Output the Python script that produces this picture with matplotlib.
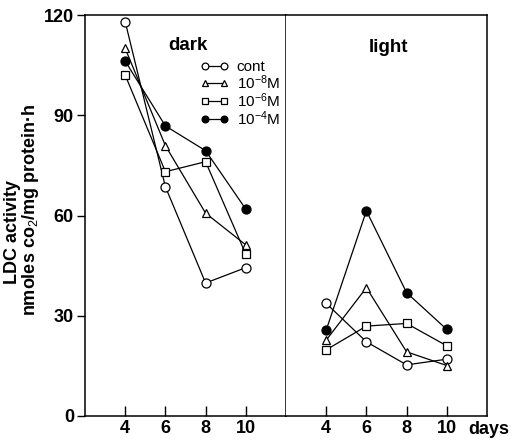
import matplotlib
matplotlib.use("Agg")
import matplotlib.pyplot as plt

plt.rcParams['font.family'] = ['Liberation Sans', 'DejaVu Sans']
plt.rcParams['mathtext.fontset'] = 'custom'
plt.rcParams['mathtext.rm'] = 'Liberation Sans'
plt.rcParams['mathtext.it'] = 'Liberation Sans'

days = [4, 6, 8, 10]
series_labels = ['cont', '10$^{-8}$M', '10$^{-6}$M', '10$^{-4}$M']
dark_cont = [118, 68.6, 39.8, 44.4]
dark_e8 = [110, 80.9, 60.7, 51.2]
dark_e6 = [102, 73.1, 76.1, 48.4]
dark_e4 = [106.2, 86.8, 79.4, 61.9]
light_cont = [33.7, 22.2, 15.3, 17.0]
light_e8 = [22.7, 38.4, 19.2, 15.1]
light_e6 = [19.8, 26.9, 27.7, 21.0]
light_e4 = [25.7, 61.4, 36.9, 25.9]
yticks = [0, 30, 60, 90, 120]
xticks = [4, 6, 8, 10]

W, H = 522, 442
fig = plt.figure(figsize=(W / 100, H / 100), dpi=100)

def fx(px):
    return px / W

def fy(py):
    return 1 - py / H

left, right, mid = 85, 487, 286
top, bottom = 15, 416
axL = fig.add_axes([fx(left), fy(bottom), fx(mid - left), (bottom - top) / H])
axR = fig.add_axes([fx(mid), fy(bottom), fx(right - mid), (bottom - top) / H])

styles = [
    dict(marker='o', mfc='white', ms=6.5),
    dict(marker='^', mfc='white', ms=6),
    dict(marker='s', mfc='white', ms=5.5),
    dict(marker='o', mfc='black', ms=6.5),
]

dark = [dark_cont, dark_e8, dark_e6, dark_e4]
light = [light_cont, light_e8, light_e6, light_e4]

handles = []
for vals, st, lab in zip(dark, styles, series_labels):
    h, = axL.plot(days, vals, color='black', lw=0.9, mec='black', mew=0.9, label=lab, **st)
    handles.append(h)
for vals, st in zip(light, styles):
    axR.plot(days, vals, color='black', lw=0.9, mec='black', mew=0.9, **st)

for ax in (axL, axR):
    ax.set_xlim(2, 12)
    ax.set_ylim(0, 120)
    ax.set_xticks(xticks)
    ax.set_xticklabels([str(t) for t in xticks], fontweight='bold', fontsize=13)
    ax.tick_params(axis='x', direction='in', length=7, width=1, pad=3)
    for s in ax.spines.values():
        s.set_linewidth(1.1)

axL.set_yticks(yticks)
axL.set_yticklabels([str(t) for t in yticks], fontweight='bold', fontsize=13)
axL.tick_params(axis='y', direction='out', length=6, width=1, pad=2)
axR.set_yticks([])
axR.spines['left'].set_visible(False)

fig.text(fx(188), fy(46), 'dark', ha='center', va='center', fontsize=13.5, fontweight='bold')
fig.text(fx(388), fy(48), 'light', ha='center', va='center', fontsize=13.5, fontweight='bold')

leg = fig.legend(handles=handles, loc='upper left', bbox_to_anchor=(fx(200), fy(60)),
                 frameon=False, numpoints=2, handlelength=1.9, handletextpad=0.5,
                 labelspacing=-0.05, fontsize=11, borderpad=0, borderaxespad=0,
                 markerscale=0.75)

fig.text(fx(489), fy(429), 'days', ha='center', va='center', fontsize=13, fontweight='bold')

fig.text(fx(13), fy(232), 'LDC activity', rotation=90, ha='center', va='center',
         fontsize=13, fontweight='bold')
fig.text(fx(31), fy(210), 'nmoles co$_2$/mg protein·h', rotation=90, ha='center', va='center',
         fontsize=13, fontweight='bold')

fig.savefig('out.png', dpi=100)
